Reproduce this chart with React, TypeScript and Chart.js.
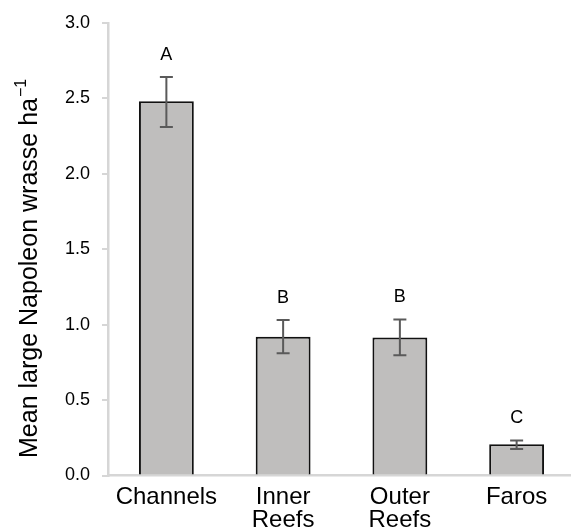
import React, { useEffect, useRef } from "react";
import { Chart, registerables } from "chart.js";

Chart.register(...registerables);

const categories: (string | string[])[] = ["Channels", ["Inner", "Reefs"], ["Outer", "Reefs"], "Faros"];
const means = [2.48, 0.92, 0.915, 0.207];
const errLow = [2.31, 0.81, 0.797, 0.175];
const errHigh = [2.64, 1.03, 1.034, 0.232];
const groupLetters = ["A", "B", "B", "C"];
const yTitleMain = "Mean large Napoleon wrasse ha";
const yTitleSup = "\u22121";
const FONT = "'Liberation Sans', Arial, Helvetica, sans-serif";

const errorBarPlugin = {
  id: "errorBars",
  afterDatasetsDraw(chart: any) {
    const ctx = chart.ctx;
    const xs = chart.scales.x;
    const ys = chart.scales.y;
    ctx.save();
    for (let i = 0; i < means.length; i++) {
      const x = xs.getPixelForValue(i);
      const yl = ys.getPixelForValue(errLow[i]);
      const yh = ys.getPixelForValue(errHigh[i]);
      ctx.strokeStyle = "#5a5a5a";
      ctx.lineWidth = 2;
      ctx.beginPath();
      ctx.moveTo(x, yl);
      ctx.lineTo(x, yh);
      ctx.moveTo(x - 6.5, yl);
      ctx.lineTo(x + 6.5, yl);
      ctx.moveTo(x - 6.5, yh);
      ctx.lineTo(x + 6.5, yh);
      ctx.stroke();
      ctx.fillStyle = "#000";
      ctx.font = `18px ${FONT}`;
      ctx.textAlign = "center";
      ctx.textBaseline = "alphabetic";
      ctx.fillText(groupLetters[i], x, yh - 17);
    }
    ctx.restore();
  },
};

const yTitlePlugin = {
  id: "yTitle",
  afterDraw(chart: any) {
    const ctx = chart.ctx;
    ctx.save();
    ctx.translate(37, 458);
    ctx.rotate(-Math.PI / 2);
    ctx.fillStyle = "#000";
    ctx.textAlign = "left";
    ctx.textBaseline = "alphabetic";
    ctx.font = `25px ${FONT}`;
    ctx.fillText(yTitleMain, 0, 0);
    const w = ctx.measureText(yTitleMain).width;
    ctx.font = `16px ${FONT}`;
    ctx.fillText(yTitleSup, w + 1, -11);
    ctx.restore();
  },
};

export default function App() {
  const ref = useRef<HTMLCanvasElement | null>(null);
  useEffect(() => {
    if (!ref.current) return;
    const chart = new Chart(ref.current, {
      type: "bar",
      data: {
        labels: categories,
        datasets: [
          {
            data: means,
            backgroundColor: "#bfbebd",
            borderColor: "#111",
            borderWidth: 2,
            categoryPercentage: 1,
            barPercentage: 0.47,
          },
        ],
      },
      options: {
        responsive: false,
        animation: false,
        devicePixelRatio: 1,
        layout: { padding: { top: 19, right: 5, left: 0, bottom: 0 } },
        plugins: { legend: { display: false }, tooltip: { enabled: false } },
        scales: {
          x: {
            grid: { display: false, drawTicks: false },
            border: { display: true, color: "#d6d6d6", width: 2.5 },
            ticks: {
              color: "#000",
              font: { family: FONT, size: 24, lineHeight: 0.98 },
              padding: 10,
              maxRotation: 0,
              autoSkip: false,
            },
            afterFit(scale: any) {
              scale.height = 56.5;
            },
          },
          y: {
            min: 0,
            max: 3,
            grid: { display: true, drawOnChartArea: false, drawTicks: true, tickLength: 6, color: "#d6d6d6", lineWidth: 2 },
            border: { display: true, color: "#d6d6d6", width: 2.5 },
            ticks: {
              stepSize: 0.5,
              color: "#000",
              font: { family: FONT, size: 18 },
              padding: 12,
              callback: (v: any) => Number(v).toFixed(1),
            },
            afterFit(scale: any) {
              scale.width = 108;
            },
          },
        },
      },
      plugins: [errorBarPlugin, yTitlePlugin],
    });
    return () => chart.destroy();
  }, []);
  return (
    <div style={{ position: "absolute", left: 0, top: 0, width: 571, height: 532, overflow: "hidden", background: "#fff" }}>
      <canvas ref={ref} width={580} height={532} style={{ width: 580, height: 532, display: "block" }} />
    </div>
  );
}
